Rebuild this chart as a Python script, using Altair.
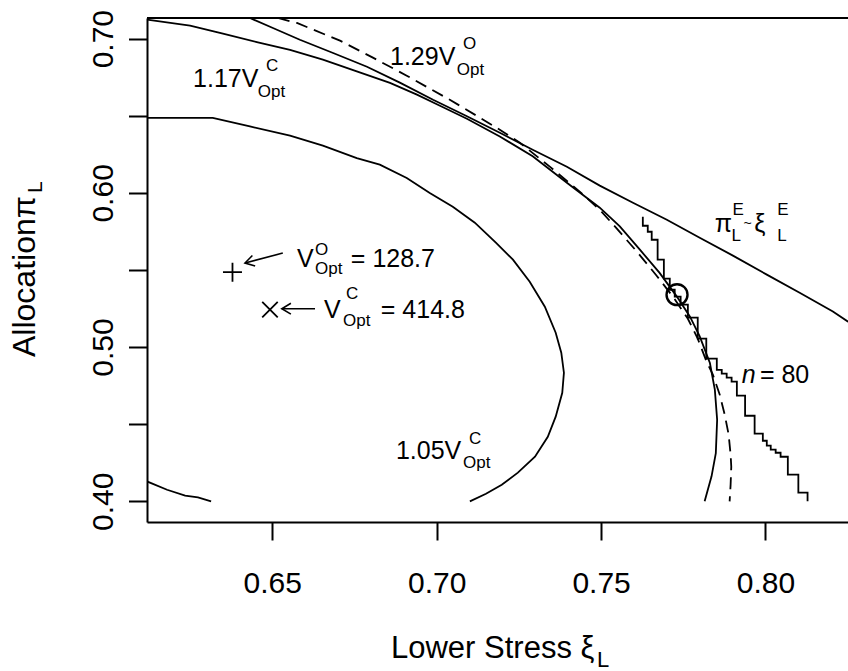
import altair as alt
import pandas as pd

# ---------------- data ----------------
X_DOMAIN = [0.6119, 0.8251]
Y_DOMAIN = [0.3866, 0.7134]
x_ticks = [0.65, 0.70, 0.75, 0.80]
y_ticks = [0.40, 0.45, 0.50, 0.55, 0.60, 0.65, 0.70]

# 1.05 V^C_Opt contour (two pieces)
c105a_x = [0.6119, 0.6180, 0.6235, 0.6274, 0.6314]
c105a_y = [0.4129, 0.4075, 0.4037, 0.4025, 0.4000]
c105b_x = [0.6119, 0.6319, 0.6432, 0.6554, 0.6654, 0.6757, 0.6827, 0.6909, 0.6979, 0.7049,
           0.7116, 0.7180, 0.7232, 0.7283, 0.7329, 0.7362, 0.7379, 0.7387, 0.7382, 0.7362,
           0.7338, 0.7299, 0.7247, 0.7198, 0.7150, 0.7101]
c105b_y = [0.6486, 0.6486, 0.6431, 0.6371, 0.6306, 0.6226, 0.6183, 0.6097, 0.5999, 0.5910,
           0.5807, 0.5677, 0.5567, 0.5424, 0.5262, 0.5093, 0.4964, 0.4834, 0.4704, 0.4549,
           0.4419, 0.4289, 0.4186, 0.4108, 0.4049, 0.4000]

# 1.17 V^C_Opt contour (solid)
c117_x = [0.6119, 0.6250, 0.6350, 0.6453, 0.6554, 0.6654, 0.6757, 0.6858, 0.6940, 0.7010,
          0.7092, 0.7192, 0.7292, 0.7396, 0.7496, 0.7557, 0.7618, 0.7678, 0.7730, 0.7770,
          0.7800, 0.7831, 0.7846, 0.7853, 0.7849, 0.7836, 0.7815]
c117_y = [0.7123, 0.7084, 0.7032, 0.6978, 0.6928, 0.6864, 0.6788, 0.6713, 0.6637, 0.6565,
          0.6481, 0.6366, 0.6237, 0.6066, 0.5904, 0.5783, 0.5632, 0.5481, 0.5329, 0.5199,
          0.5069, 0.4897, 0.4724, 0.4529, 0.4313, 0.4162, 0.4000]

# 1.29 V^O_Opt contour (dashed)
c129_x = [0.6517, 0.6575, 0.6706, 0.6806, 0.6909, 0.6979, 0.7040, 0.7131, 0.7192, 0.7253,
          0.7344, 0.7435, 0.7496, 0.7548, 0.7609, 0.7669, 0.7721, 0.7764, 0.7794, 0.7821,
          0.7840, 0.7861, 0.7876, 0.7888, 0.7894, 0.7896, 0.7894, 0.7891]
c129_y = [0.7134, 0.7102, 0.6987, 0.6877, 0.6760, 0.6676, 0.6604, 0.6488, 0.6410, 0.6325,
          0.6170, 0.6008, 0.5891, 0.5768, 0.5619, 0.5463, 0.5320, 0.5184, 0.5055, 0.4905,
          0.4821, 0.4691, 0.4562, 0.4432, 0.4302, 0.4225, 0.4108, 0.4000]

# pi_L^E ~ xi_L^E curve
pe_x = [0.6432, 0.6502, 0.6584, 0.6685, 0.6788, 0.6888, 0.6989, 0.7092, 0.7192, 0.7292,
        0.7396, 0.7496, 0.7597, 0.7700, 0.7800, 0.7901, 0.8004, 0.8104, 0.8205, 0.8250, 0.8287]
pe_y = [0.7134, 0.7069, 0.6993, 0.6907, 0.6818, 0.6715, 0.6604, 0.6497, 0.6390, 0.6280,
        0.6170, 0.6047, 0.5936, 0.5826, 0.5709, 0.5593, 0.5470, 0.5353, 0.5231, 0.5167, 0.5126]

# n = 80 stepped curve
step_x = [0.7627, 0.7642, 0.7654, 0.7672, 0.7691, 0.7709, 0.7724, 0.7742, 0.7764, 0.7794,
          0.7820, 0.7852, 0.7867, 0.7882, 0.7897, 0.7913, 0.7938, 0.7967, 0.7992, 0.8004,
          0.8016, 0.8031, 0.8046, 0.8068, 0.8100, 0.8128, 0.8128]
step_y = [0.5846, 0.5787, 0.5748, 0.5696, 0.5567, 0.5444, 0.5372, 0.5327, 0.5275, 0.5191,
          0.5055, 0.4925, 0.4853, 0.4828, 0.4802, 0.4776, 0.4685, 0.4555, 0.4439, 0.4393,
          0.4361, 0.4335, 0.4315, 0.4289, 0.4173, 0.4056, 0.4000]

# optimum markers
opt_o = (0.6379, 0.5486)   # "+"  V^O_Opt
opt_c = (0.6493, 0.5243)   # "x"  V^C_Opt
circ = (0.7731, 0.5340)    # "O"

# arrows: tail -> tip
arrow_x = [0.6532, 0.6630]
arrow_y = [0.5610, 0.5249]
arrow_x2 = [0.6417, 0.6529]
arrow_y2 = [0.5545, 0.5249]
arrow_angle = [345.3, 0.0]

# annotation texts (left / baseline anchored)
ann_t = ["1.17V", "C", "Opt",
         "1.29V", "O", "Opt",
         "π", "E", "L", "~", "ξ", "E", "L",
         "V", "O", "Opt", "= 128.7",
         "V", "C", "Opt", "= 414.8",
         "1.05V", "C", "Opt",
         "= 80"]
ann_x = [0.6259, 0.6481, 0.6456,
         0.6858, 0.7080, 0.7061,
         0.7846, 0.7900, 0.7897, 0.7933, 0.7966, 0.8036, 0.8036,
         0.6575, 0.6630, 0.6630, 0.6739,
         0.6657, 0.6724, 0.6715, 0.6830,
         0.6876, 0.7098, 0.7080,
         0.7983]
ann_y = [0.6687, 0.6788, 0.6622,
         0.6831, 0.6935, 0.6767,
         0.5749, 0.5859, 0.5691, 0.5775, 0.5749, 0.5859, 0.5691,
         0.5522, 0.5600, 0.5477, 0.5522,
         0.5192, 0.5309, 0.5140, 0.5192,
         0.4272, 0.4369, 0.4214,
         0.4769]
ann_s = [25, 17, 17,
         25, 17, 17,
         25, 17, 17, 14, 25, 17, 17,
         25, 17, 17, 25,
         25, 17, 17, 25,
         25, 17, 17,
         25]
ital_t = ["n"]
ital_x = [0.7928]
ital_y = [0.4769]

# ---------------- chart ----------------
FONT = "Liberation Sans"
W, H = 701, 504
xs = alt.Scale(domain=X_DOMAIN, nice=False, zero=False)
ys = alt.Scale(domain=Y_DOMAIN, nice=False, zero=False)

x_axis = alt.Axis(values=x_ticks, format=".2f", title=None, grid=False,
                  tickSize=18, tickWidth=2, domainWidth=2, tickColor="black",
                  domainColor="black", labelFontSize=30, labelFont=FONT,
                  labelColor="black", labelPadding=52, labelBaseline="alphabetic",
                  labelFlush=False, labelOverlap=False)
y_axis = alt.Axis(values=y_ticks, title=None, grid=False,
                  labelExpr="abs(round(datum.value*100)) % 10 == 0 ? format(datum.value, '.2f') : ''",
                  tickSize=18.5, tickWidth=2, domainWidth=2, tickColor="black",
                  domainColor="black", labelFontSize=30, labelFont=FONT,
                  labelColor="black", labelAngle=270, labelAlign="center",
                  labelBaseline="alphabetic", labelPadding=16.5,
                  labelFlush=False, labelOverlap=False)

X = lambda f="x": alt.X(f"{f}:Q", scale=xs, axis=x_axis)
Y = lambda f="y": alt.Y(f"{f}:Q", scale=ys, axis=y_axis)


def line_layer(xv, yv, dash=None, interp=None):
    df = pd.DataFrame({"x": xv, "y": yv, "i": list(range(len(xv)))})
    kw = dict(color="black", strokeWidth=1.8, clip=True)
    if dash:
        kw["strokeDash"] = dash
    if interp:
        kw["interpolate"] = interp
    return alt.Chart(df).mark_line(**kw).encode(x=X(), y=Y(), order="i:Q")


layers = [
    line_layer(c105a_x, c105a_y),
    line_layer(c105b_x, c105b_y),
    line_layer(c117_x, c117_y),
    line_layer(c129_x, c129_y, dash=[12, 7]),
    line_layer(pe_x, pe_y),
    line_layer(step_x, step_y, interp="step-before"),
]

pts = pd.DataFrame({"x": [opt_o[0]], "y": [opt_o[1]]})
layers.append(alt.Chart(pts).mark_point(shape="M-1,0L1,0M0,-1L0,1", filled=False,
                                        size=361, strokeWidth=1.8, color="black",
                                        opacity=1).encode(x=X(), y=Y()))
ptc = pd.DataFrame({"x": [opt_c[0]], "y": [opt_c[1]]})
layers.append(alt.Chart(ptc).mark_point(shape="M-1,-1L1,1M-1,1L1,-1", filled=False,
                                        size=240, strokeWidth=1.8, color="black",
                                        opacity=1).encode(x=X(), y=Y()))
pcirc = pd.DataFrame({"x": [circ[0]], "y": [circ[1]]})
layers.append(alt.Chart(pcirc).mark_point(shape="circle", filled=False, size=440,
                                          strokeWidth=2.4, color="black",
                                          opacity=1).encode(x=X(), y=Y()))

arr = pd.DataFrame({"x": arrow_x, "y": arrow_y, "x2": arrow_x2, "y2": arrow_y2,
                    "a": arrow_angle})
layers.append(alt.Chart(arr).mark_rule(color="black", strokeWidth=1.6).encode(
    x=X(), y=Y(), x2="x2:Q", y2="y2:Q"))
layers.append(alt.Chart(arr).mark_point(shape="M1,-0.6L0,0L1,0.6", filled=False,
                                        size=330, strokeWidth=1.6, color="black",
                                        opacity=1).encode(
    x=X("x2"), y=Y("y2"), angle=alt.Angle("a:Q", scale=None)))

ann = pd.DataFrame({"x": ann_x, "y": ann_y, "t": ann_t, "s": ann_s})
layers.append(alt.Chart(ann).mark_text(align="left", baseline="alphabetic", font=FONT,
                                       color="black").encode(
    x=X(), y=Y(), text="t:N", size=alt.Size("s:Q", scale=None, legend=None)))
ita = pd.DataFrame({"x": ital_x, "y": ital_y, "t": ital_t})
layers.append(alt.Chart(ita).mark_text(align="left", baseline="alphabetic", font=FONT,
                                       fontStyle="italic", fontSize=25,
                                       color="black").encode(x=X(), y=Y(), text="t:N"))

# top border of the box
border = pd.DataFrame({"k": [0]})
layers.append(alt.Chart(border).mark_rule(color="black", strokeWidth=2).encode(
    x=alt.value(0), x2=alt.value(W), y=alt.value(0)))

# axis titles (with subscripts)
xt = pd.DataFrame({"t": ["Lower Stress ξ", "L"], "px": [244, 450], "py": [640, 649],
                   "s": [31, 22]})
layers.append(alt.Chart(xt).mark_text(align="left", baseline="alphabetic", font=FONT,
                                      color="black").encode(
    x=alt.X("px:Q", scale=None), y=alt.Y("py:Q", scale=None), text="t:N",
    size=alt.Size("s:Q", scale=None, legend=None)))
yt = pd.DataFrame({"t": ["Allocationπ", "L"], "px": [-112, -105], "py": [339, 175],
                   "s": [32, 21]})
layers.append(alt.Chart(yt).mark_text(align="left", baseline="alphabetic", font=FONT,
                                      angle=270, color="black").encode(
    x=alt.X("px:Q", scale=None), y=alt.Y("py:Q", scale=None), text="t:N",
    size=alt.Size("s:Q", scale=None, legend=None)))

chart = alt.layer(*layers).properties(
    width=W, height=H,
    autosize=alt.AutoSizeParams(type="none"),
    padding={"left": 147, "top": 18, "right": 0, "bottom": 149},
    background="white",
).configure_view(stroke=None).configure_axis(labelFont=FONT)

chart.save("out.html", embed_options={"renderer": "svg", "actions": False})
